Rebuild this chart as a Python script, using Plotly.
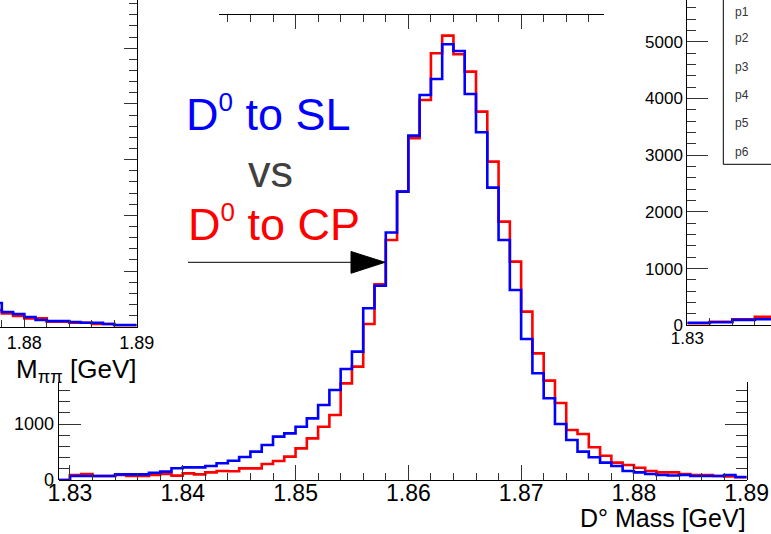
import plotly.graph_objects as go

W, H = 771, 534
def fx(px): return px / W
def fy(py): return 1 - py / H

FONT = "Liberation Sans, Arial, sans-serif"

# ---------------- data ----------------
# main D0 mass histograms: bins of 0.001 GeV starting at 1.829
main_bin_start = 1.829
main_bin_width = 0.001
cp_counts = [0, 90, 107, 71, 71, 90, 71, 71, 90, 107,
             78, 119, 100, 137, 160, 155, 208, 208, 286, 340,
             417, 565, 744, 952, 1161, 1726, 2024, 2786, 3494, 4286,
             5149, 6102, 6787, 7620, 7935, 7603, 7293, 6578, 5685, 4613,
             3899, 3006, 2262, 1774, 1375, 893, 822, 584, 434, 310,
             268, 220, 161, 137, 137, 107, 89, 89, 71, 65, 50]
sl_counts = [0, 71, 71, 71, 71, 100, 100, 100, 130, 150,
             210, 225, 225, 250, 300, 345, 410, 506, 625, 774,
             833, 952, 1101, 1340, 1607, 1982, 2292, 3066, 3470, 4420,
             5149, 6150, 6876, 7162, 7781, 7662, 6894, 6210, 5221, 4286,
             3393, 2518, 1905, 1459, 1000, 714, 506, 405, 310, 250,
             161, 137, 107, 89, 80, 89, 71, 71, 71, 89, 54]

# left background panel (M_pipi), tail only visible
left_bin_start = 1.877
left_cp = [300, 240, 192, 150, 150, 90, 90, 72, 72, 48, 48, 25, 25]
left_sl = [425, 264, 228, 174, 120, 102, 102, 84, 72, 72, 48, 30, 30]

# right background panel, start only visible
right_bin_start = 1.830
right_cp = [35, 35, 63, 63, 106, 106, 152, 152]
right_sl = [46, 46, 55, 55, 95, 95, 106, 106]

stat_labels = ["p1", "p2", "p3", "p4", "p5", "p6"]

BLUE = "#0000ff"
RED = "#ff0000"


def step_xy(start, width, counts):
    xs = [round(start + i * width, 6) for i in range(len(counts) + 1)]
    ys = list(counts) + [counts[-1]]
    return xs, ys


fig = go.Figure()

def add_hist(start, counts, color, xa, ya):
    xs, ys = step_xy(start, main_bin_width, counts)
    fig.add_trace(go.Scatter(x=xs, y=ys, mode="lines", line=dict(color=color, width=2.6, shape="hv"),
                             xaxis=xa, yaxis=ya, showlegend=False, hoverinfo="skip"))

# main histograms (red first, blue on top)
add_hist(main_bin_start, cp_counts, RED, "x", "y")
add_hist(main_bin_start, sl_counts, BLUE, "x", "y")
# left panel
add_hist(left_bin_start, left_cp, RED, "x3", "y3")
add_hist(left_bin_start, left_sl, BLUE, "x3", "y3")
# right panel
add_hist(right_bin_start, right_cp, RED, "x4", "y4")
add_hist(right_bin_start, right_sl, BLUE, "x4", "y4")
# dummy traces to register decorative axes
fig.add_trace(go.Scatter(x=[], y=[], xaxis="x2", yaxis="y", showlegend=False, hoverinfo="skip"))
fig.add_trace(go.Scatter(x=[], y=[], xaxis="x", yaxis="y2", showlegend=False, hoverinfo="skip"))

# scales
main_px_per_unit = (746.7 - 58.7) / (1.89 - 1.829)
main_y_px_per_k = 56.0  # px per 1000 counts

TICKC = "#333333"
base_ax = dict(showgrid=False, zeroline=False, linecolor="black", linewidth=1, tickcolor=TICKC,
               automargin=False)

fig.update_layout(
    width=W, height=H,
    margin=dict(l=0, r=0, t=0, b=0, pad=0, autoexpand=False),
    paper_bgcolor="white", plot_bgcolor="rgba(0,0,0,0)",
    font=dict(family=FONT, color="black"),
    showlegend=False,
    xaxis=dict(**base_ax, domain=[fx(58.7), fx(746.7)], range=[1.829, 1.89], anchor="y",
               showline=True, ticks="inside", ticklen=15, tickmode="linear", tick0=1.83, dtick=0.01,
               tickformat=".2f", tickfont=dict(size=23, color="black", family=FONT),
               ticklabelstandoff=-8,
               minor=dict(ticks="inside", ticklen=7, dtick=0.002, tick0=1.83, tickcolor=TICKC)),
    yaxis=dict(**base_ax, domain=[fy(480), fy(14)], range=[0, (480 - 14) / main_y_px_per_k * 1000],
               anchor="x", showline=False, ticks="", showticklabels=False),
    # visible piece of the main left/right frame
    yaxis2=dict(**base_ax, domain=[fy(480), fy(382)], range=[0, (480 - 382) / main_y_px_per_k * 1000],
                anchor="x", showline=True, mirror="ticks", ticks="inside", ticklen=22,
                tickmode="linear", tick0=0, dtick=1000, tickfont=dict(size=18, color="black", family=FONT),
                minor=dict(ticks="inside", ticklen=11, dtick=200, tick0=0, tickcolor=TICKC)),
    # visible piece of the main top frame
    xaxis2=dict(**base_ax, domain=[fx(219), fx(604)],
                range=[1.829 + (219 - 58.7) / main_px_per_unit, 1.829 + (604 - 58.7) / main_px_per_unit],
                anchor="free", position=fy(14), side="top", showline=True, ticks="inside", ticklen=14,
                tickmode="linear", tick0=1.83, dtick=0.01, showticklabels=False,
                minor=dict(ticks="inside", ticklen=7, dtick=0.002, tick0=1.83, tickcolor=TICKC)),
    # left background panel
    xaxis3=dict(**base_ax, domain=[0, fx(136.7)], range=[1.88 - 24.3 / 11240, 1.89], anchor="y3",
                showline=True, ticks="inside", ticklen=12, tickmode="linear", tick0=1.83, dtick=0.01,
                tickformat=".2f", tickfont=dict(size=18, color="black", family=FONT),
                minor=dict(ticks="inside", ticklen=7, dtick=0.002, tick0=1.83, tickcolor=TICKC)),
    yaxis3=dict(**base_ax, domain=[fy(326.7), 1], range=[0, 326.7 / 55.7 * 1000], anchor="x3",
                side="right", showline=True, ticks="inside", ticklen=13, tickmode="linear", tick0=0,
                dtick=1000, showticklabels=False,
                minor=dict(ticks="inside", ticklen=8, dtick=200, tick0=0, tickcolor=TICKC)),
    # right background panel
    xaxis4=dict(**base_ax, domain=[fx(687.3), 1], range=[1.83, 1.83 + (W - 687.3) / 11250], anchor="y4",
                showline=True, ticks="inside", ticklen=12, tickmode="linear", tick0=1.83, dtick=0.01,
                tickformat=".2f", tickfont=dict(size=17, color="black", family=FONT),
                ticklabelstandoff=-3,
                minor=dict(ticks="inside", ticklen=7, dtick=0.002, tick0=1.83, tickcolor=TICKC)),
    yaxis4=dict(**base_ax, domain=[fy(325.3), 1], range=[0, 325.3 / 56.7 * 1000], anchor="x4",
                showline=True, ticks="inside", ticklen=21, tickmode="linear", tick0=0, dtick=1000,
                tickfont=dict(size=17, color="black", family=FONT),
                minor=dict(ticks="inside", ticklen=9, dtick=200, tick0=0, tickcolor=TICKC)),
)

# stat box of right panel
shapes = [
    dict(type="rect", xref="paper", yref="paper", x0=fx(723.3), x1=1.05, y0=fy(164.3), y1=1.05,
         line=dict(color="black", width=1), fillcolor="white", layer="above"),
    # arrow
    dict(type="line", xref="paper", yref="paper", x0=fx(188), x1=fx(352), y0=fy(262.3), y1=fy(262.3),
         line=dict(color="black", width=1)),
    dict(type="path", xref="paper", yref="paper",
         path=f"M {fx(351)} {fy(251.5)} L {fx(385)} {fy(262.3)} L {fx(351)} {fy(273.3)} Z",
         fillcolor="black", line=dict(color="black", width=1)),
]
fig.update_layout(shapes=shapes)

annotations = []
stat_y = [11.7, 38.3, 66.7, 95, 123, 151.7]
for lab, py in zip(stat_labels, stat_y):
    annotations.append(dict(text=lab, xref="paper", yref="paper", x=fx(733), y=fy(py), xanchor="left",
                            yanchor="middle", showarrow=False, font=dict(size=12, color="#333333", family=FONT)))

SUP0 = "<sup><span style='font-size:26px'>0</span></sup>"
annotations += [
    dict(text="D" + SUP0 + " to SL", xref="paper", yref="paper", x=fx(184), y=fy(114), xanchor="left",
         yanchor="middle", showarrow=False, font=dict(size=45, color=BLUE, family=FONT)),
    dict(text="vs", xref="paper", yref="paper", x=fx(246), y=fy(171), xanchor="left",
         yanchor="middle", showarrow=False, font=dict(size=45, color="#404040", family=FONT)),
    dict(text="D" + SUP0 + " to CP", xref="paper", yref="paper", x=fx(186), y=fy(223), xanchor="left",
         yanchor="middle", showarrow=False, font=dict(size=45, color=RED, family=FONT)),
    dict(text="D° Mass [GeV]", xref="paper", yref="paper", x=fx(748), y=fy(518), xanchor="right",
         yanchor="middle", showarrow=False, font=dict(size=25, color="black", family=FONT)),
    dict(text="M<sub>ππ</sub> [GeV]", xref="paper", yref="paper", x=fx(138), y=fy(370), xanchor="right",
         yanchor="middle", showarrow=False, font=dict(size=26, color="black", family=FONT)),
]
fig.update_layout(annotations=annotations)

fig.write_html("out.html", config={"displayModeBar": False},
               post_script="document.body.style.margin='0px';document.body.style.padding='0px';")
